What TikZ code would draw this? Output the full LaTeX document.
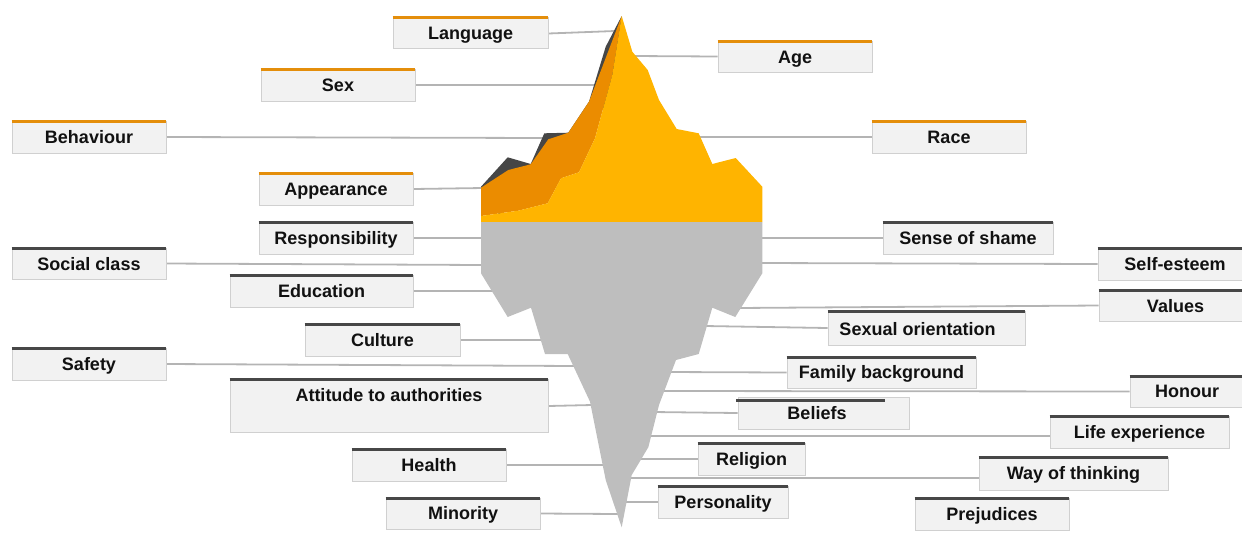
\documentclass[tikz,border=0pt]{standalone}
\usepackage{fontspec}
\setmainfont{Liberation Sans}
\usetikzlibrary{backgrounds}
\definecolor{boxfill}{HTML}{F2F2F2}
\definecolor{boxedge}{HTML}{D0D0D0}
\definecolor{connc}{HTML}{B4B4B4}
\definecolor{barorange}{HTML}{E48E0B}
\definecolor{bardark}{HTML}{474747}
\definecolor{iceyellow}{HTML}{FFB400}
\definecolor{iceorange}{HTML}{EB8C00}
\definecolor{icedark}{HTML}{464646}
\definecolor{icegray}{HTML}{BEBEBE}
\definecolor{txt}{HTML}{111111}
\tikzset{
  lblbox/.style={draw=boxedge,line width=0.9pt,fill=boxfill,inner sep=0pt,anchor=center,
     font=\bfseries\fontsize{18}{20}\selectfont,text=txt},
  topbar/.style={line width=3pt,line cap=butt},
  conn/.style={draw=connc,line width=1.8pt},
  ice/.style={draw=none}
}
% name x0 y0 x1 y1 dx dy text
\newcommand\lblnode[8]{%
  \pgfmathsetmacro\bw{#4-#2}\pgfmathsetmacro\bh{#5-#3}%
  \pgfmathsetmacro\bcx{(#2+#4)/2}\pgfmathsetmacro\bcy{(#3+#5)/2}%
  \node[lblbox,minimum width=\bw pt,minimum height=\bh pt] (#1) at (\bcx,\bcy)
    {\hspace*{#6pt}\makebox[0pt]{\raisebox{\dimexpr-6pt-#7pt\relax}[0pt][0pt]{#8}}\hspace*{-#6pt}};%
}
\newcommand\orangebar[1]{\draw[topbar,draw=barorange] ([yshift=-1pt]#1.north west) -- ([yshift=-1pt]#1.north east);}
\newcommand\darkbar[1]{\draw[topbar,draw=bardark] ([yshift=-1pt]#1.north west) -- ([yshift=-1pt]#1.north east);}
\begin{document}
\begin{tikzpicture}[x=1pt,y=-1pt]
\useasboundingbox (0,0) rectangle (1242,542);
% iceberg
\fill[icedark] (481,186.7)--(507.7,157.3)--(530.7,164)--(544.3,133.3)--(568.3,132.7)--(589,101.7)--(605.7,46.7)--(621.7,16)--(612,100)--(500,216)--cycle;
\fill[iceorange] (481,187.7)--(508.3,170)--(530.7,164.3)--(548.3,139.3)--(568.3,132.7)--(589,101.7)--(621.7,16)--(612.3,75)--(595,138.3)--(579,172.3)--(561,178.3)--(547.7,203.3)--(518.3,210.7)--(481,216)--cycle;
\fill[iceyellow] (481,216)--(518.3,210.7)--(547.7,203.3)--(561,178.3)--(579,172.3)--(595,138.3)--(612.3,75)--(621.7,16)--(632.3,51.7)--(647.7,70)--(659,100)--(676.7,129)--(698.7,133.3)--(712.3,164)--(735.7,158)--(762.3,186.7)--(762.3,222)--(481,222)--cycle;
\fill[icegray] (481,222)--(762.3,222)--(762.3,273.3)--(735.3,317)--(712.3,307.7)--(698.7,354)--(676,360)--(659,405)--(648.3,447.3)--(631.7,475)--(621.7,527.3)--(605.7,480)--(590,401.7)--(567.7,354)--(545,354)--(531,307.7)--(507.7,317)--(481,273.3)--cycle;
% free ends on the iceberg
\coordinate (pLanguage) at (615,31);
\coordinate (pSex) at (595,85);
\coordinate (pBehaviour) at (545,138);
\coordinate (pAppearance) at (483,188);
\coordinate (pAge) at (633,56);
\coordinate (pRace) at (698,137);
\coordinate (pResp) at (483,238);
\coordinate (pSocial) at (483,265);
\coordinate (pEducation) at (494,291);
\coordinate (pCulture) at (544,340);
\coordinate (pSafety) at (577,366);
\coordinate (pAttitude) at (592,405);
\coordinate (pHealth) at (606,465);
\coordinate (pMinority) at (618,514);
\coordinate (pShame) at (760,238);
\coordinate (pEsteem) at (760,263);
\coordinate (pValues) at (737,308);
\coordinate (pSexual) at (705,326);
\coordinate (pFamily) at (668,372);
\coordinate (pHonour) at (660,391);
\coordinate (pBeliefs) at (653,412);
\coordinate (pLife) at (648,436);
\coordinate (pReligion) at (638,459);
\coordinate (pWay) at (628,478);
\coordinate (pPersonality) at (626,502);
% labels
\lblnode{language}{393}{17}{548}{48}{0}{1}{Language}\orangebar{language}
\lblnode{sex}{261}{69}{415}{101}{0}{0}{Sex}\orangebar{sex}
\lblnode{behaviour}{12}{121}{166}{153}{0}{0}{Behaviour}\orangebar{behaviour}
\lblnode{appearance}{259}{173}{413}{205}{0}{0}{Appearance}\orangebar{appearance}
\lblnode{age}{718}{41}{872}{72}{0}{1}{Age}\orangebar{age}
\lblnode{race}{872}{121}{1026}{153}{0}{0}{Race}\orangebar{race}
\lblnode{responsibility}{259}{222}{413}{254}{0}{0}{Responsibility}\darkbar{responsibility}
\lblnode{social}{12}{248}{166}{279}{0}{1}{Social class}\darkbar{social}
\lblnode{education}{230}{275}{413}{307}{0}{0}{Education}\darkbar{education}
\lblnode{culture}{305}{324}{460}{356}{0}{0}{Culture}\darkbar{culture}
\lblnode{safety}{12}{348}{166}{380}{0}{0}{Safety}\darkbar{safety}
\lblnode{attitude}{230}{379}{548}{432}{0}{-10}{Attitude to authorities}\darkbar{attitude}
\lblnode{health}{352}{449}{506}{481}{0}{0}{Health}\darkbar{health}
\lblnode{minority}{386}{498}{540}{529}{0}{0}{Minority}\darkbar{minority}
\lblnode{shame}{883}{222}{1053}{254}{0}{0}{Sense of shame}\darkbar{shame}
\lblnode{esteem}{1098}{248}{1242}{280}{5}{0}{Self-esteem}\darkbar{esteem}
\lblnode{values}{1099}{290}{1242}{321}{5}{1}{Values}\darkbar{values}
\lblnode{sexual}{828}{311}{1025}{345}{-9}{1}{Sexual orientation}\darkbar{sexual}
\lblnode{family}{787}{357}{976}{388}{0}{0}{Family background}\darkbar{family}
\lblnode{honour}{1130}{376}{1242}{407}{1}{0}{Honour}\darkbar{honour}
\lblnode{beliefs}{738}{397}{909}{429}{-6.5}{0}{Beliefs}
\coordinate (beliefsBarL) at (736,400);
\coordinate (beliefsBarR) at (885,400);
\draw[topbar,draw=bardark] (beliefsBarL) -- (beliefsBarR);
\lblnode{life}{1050}{416}{1229}{448}{0}{0}{Life experience}\darkbar{life}
\lblnode{religion}{698}{443}{805}{475}{0}{0}{Religion}\darkbar{religion}
\lblnode{way}{979}{457}{1168}{490}{0}{0}{Way of thinking}\darkbar{way}
\lblnode{personality}{658}{486}{788}{518}{0}{0}{Personality}\darkbar{personality}
\lblnode{prejudices}{915}{498}{1069}{530}{0}{0}{Prejudices}\darkbar{prejudices}
% connectors
\begin{scope}[on background layer]
\draw[conn] ([yshift=-1pt]language.east) -- (pLanguage);
\draw[conn] (sex.east) -- (pSex);
\draw[conn] (behaviour.east) -- (pBehaviour);
\draw[conn] (appearance.east) -- (pAppearance);
\draw[conn] (age.west) -- (pAge);
\draw[conn] (race.west) -- (pRace);
\draw[conn] (responsibility.east) -- (pResp);
\draw[conn] (social.east) -- (pSocial);
\draw[conn] (education.east) -- (pEducation);
\draw[conn] (culture.east) -- (pCulture);
\draw[conn] (safety.east) -- (pSafety);
\draw[conn] ([yshift=-.5pt]attitude.east) -- (pAttitude);
\draw[conn] (health.east) -- (pHealth);
\draw[conn] (minority.east) -- (pMinority);
\draw[conn] (shame.west) -- (pShame);
\draw[conn] (esteem.west) -- (pEsteem);
\draw[conn] (values.west) -- (pValues);
\draw[conn] (sexual.west) -- (pSexual);
\draw[conn] (family.west) -- (pFamily);
\draw[conn] (honour.west) -- (pHonour);
\draw[conn] (beliefs.west) -- (pBeliefs);
\draw[conn] ([yshift=-4pt]life.west) -- (pLife);
\draw[conn] (religion.west) -- (pReligion);
\draw[conn] ([yshift=-4.5pt]way.west) -- (pWay);
\draw[conn] (personality.west) -- (pPersonality);
\end{scope}
\end{tikzpicture}
\end{document}
